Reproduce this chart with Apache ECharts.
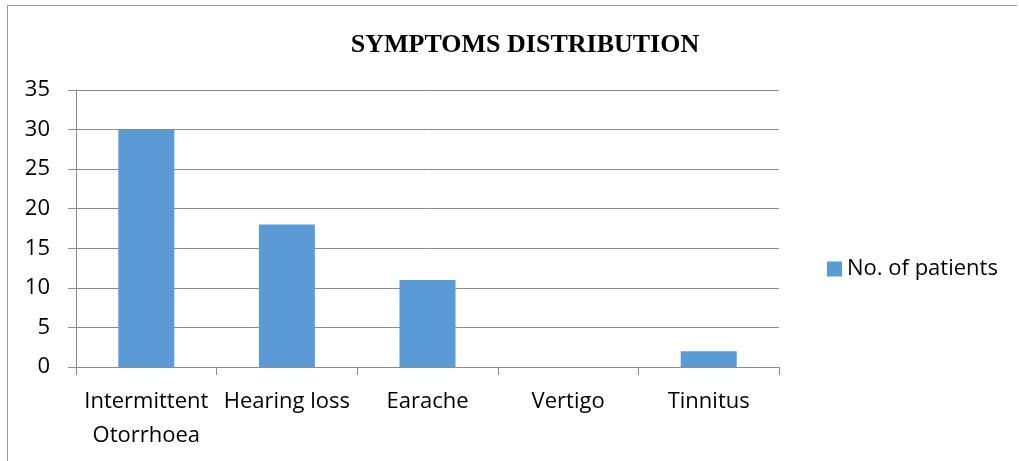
<!DOCTYPE html>
<html>
<head>
<meta charset="utf-8">
<script src="https://cdn.jsdelivr.net/npm/echarts@6/dist/echarts.min.js"></script>
<style>
  html, body { margin: 0; padding: 0; background: #fff; }
  #chart { width: 1019px; height: 461px; }
</style>
</head>
<body>
<div id="chart"></div>
<script>
// 数据
var categories = ['Intermittent\nOtorrhoea', 'Hearing loss', 'Earache', 'Vertigo', 'Tinnitus'];
var patients = [30, 18, 11, 0, 2];
var seriesName = 'No. of patients';

var myChart = echarts.init(document.getElementById('chart'));

var option = {
  backgroundColor: '#fff',
  animation: false,
  title: {
    text: 'SYMPTOMS DISTRIBUTION',
    left: 520,
    textAlign: 'center',
    top: 27,
    textStyle: {
      fontFamily: '"Liberation Serif", serif',
      fontWeight: 'bold',
      fontSize: 26,
      color: '#000'
    }
  },
  legend: {
    left: 822,
    top: 253,
    itemWidth: 15,
    itemHeight: 15,
    itemGap: 7,
    icon: 'rect',
    textStyle: {
      fontFamily: '"Open Sans", sans-serif',
      fontSize: 22,
      color: '#000'
    },
    data: [seriesName]
  },
  grid: {
    left: 76,
    right: 1019 - 779,
    top: 90,
    bottom: 461 - 367,
    containLabel: false
  },
  xAxis: {
    type: 'category',
    data: categories,
    axisLine: { lineStyle: { color: '#8c8c8c', width: 1 } },
    axisTick: { show: true, length: 8, alignWithLabel: false, lineStyle: { color: '#8c8c8c' } },
    axisLabel: {
      interval: 0,
      margin: 18,
      color: '#000',
      fontFamily: '"Open Sans", sans-serif',
      fontSize: 22,
      lineHeight: 34
    }
  },
  yAxis: {
    type: 'value',
    min: 0,
    max: 35,
    interval: 5,
    axisLine: { show: true, lineStyle: { color: '#8c8c8c' } },
    axisTick: { show: true, length: 8, lineStyle: { color: '#8c8c8c' } },
    splitLine: { lineStyle: { color: '#8c8c8c', width: 1 } },
    axisLabel: {
      margin: 26,
      color: '#000',
      fontFamily: '"Open Sans", sans-serif',
      fontSize: 22
    }
  },
  series: [
    {
      name: seriesName,
      type: 'bar',
      data: patients,
      barWidth: 56,
      itemStyle: { color: '#5b9bd5' }
    }
  ],
  graphic: [
    { type: 'line', shape: { x1: 7, y1: 5.5, x2: 1017, y2: 5.5 }, style: { stroke: '#9a9a9a', lineWidth: 1 } },
    { type: 'line', shape: { x1: 7.5, y1: 5, x2: 7.5, y2: 461 }, style: { stroke: '#9a9a9a', lineWidth: 1 } }
  ]
};

myChart.setOption(option);
</script>
</body>
</html>
